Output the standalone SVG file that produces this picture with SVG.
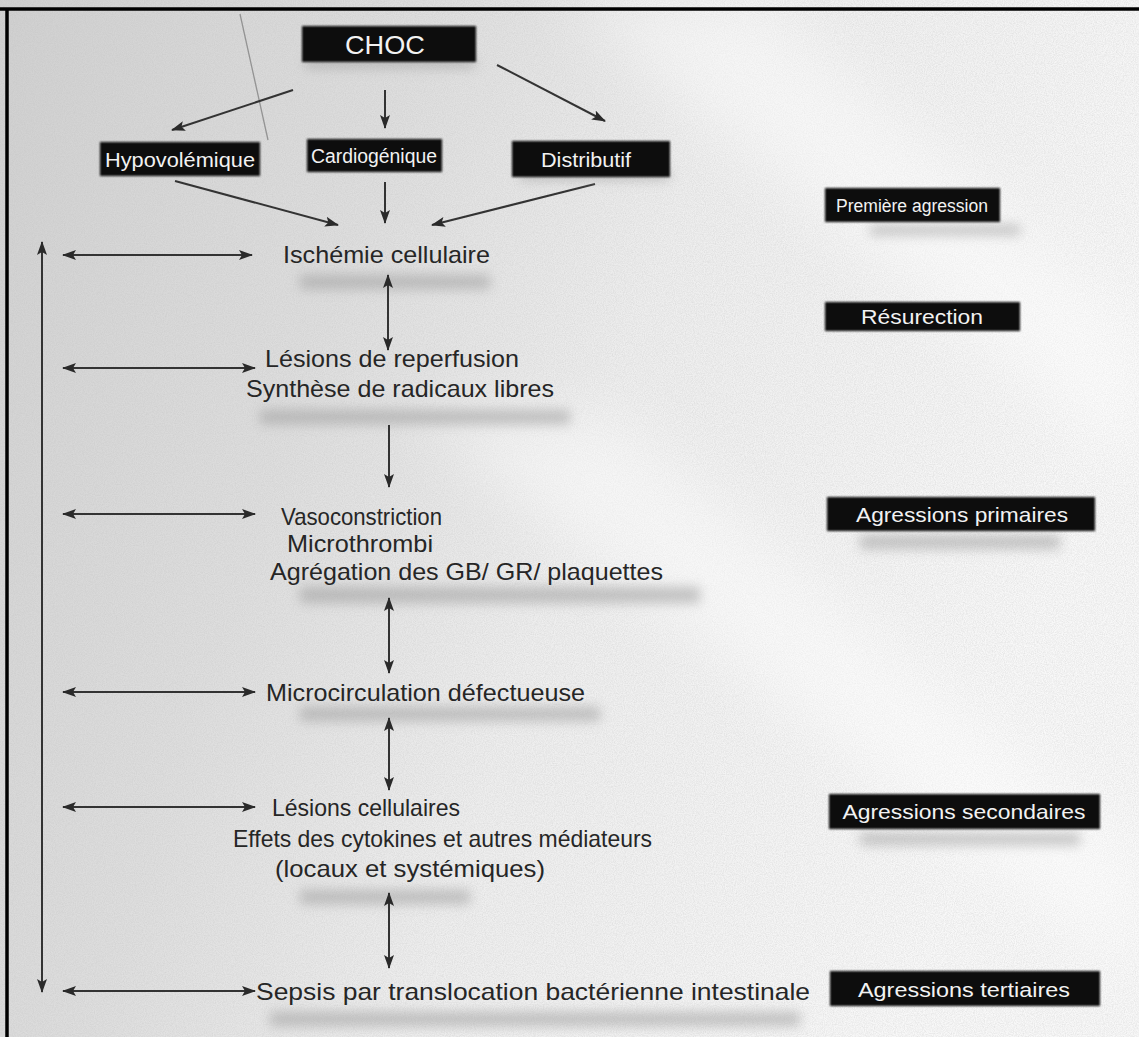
<svg xmlns="http://www.w3.org/2000/svg" width="1139" height="1037" viewBox="0 0 1139 1037">
  <defs>
    <linearGradient id="paper" x1="0" y1="0" x2="1" y2="0.3">
      <stop offset="0" stop-color="#d0d0d0"/>
      <stop offset="0.35" stop-color="#dedede"/>
      <stop offset="0.6" stop-color="#eeeeee"/>
      <stop offset="1" stop-color="#f8f8f8"/>
    </linearGradient>
    <filter id="grain" x="0" y="0" width="100%" height="100%">
      <feTurbulence type="fractalNoise" baseFrequency="0.9" numOctaves="2" seed="4" result="n"/>
      <feColorMatrix type="matrix" values="0 0 0 0 0.5  0 0 0 0 0.5  0 0 0 0 0.5  0 0 0 -1.6 1.1" in="n"/>
    </filter>
    <filter id="soft" x="-20%" y="-200%" width="140%" height="500%">
      <feGaussianBlur stdDeviation="6"/>
    </filter>
    <filter id="wide" x="-30%" y="-30%" width="160%" height="160%">
      <feGaussianBlur stdDeviation="30"/>
    </filter>
    <filter id="edge" x="-5%" y="-20%" width="110%" height="140%">
      <feGaussianBlur stdDeviation="1.2"/>
    </filter>
    <marker id="ah" viewBox="0 0 14 10" refX="13" refY="5" markerWidth="14" markerHeight="10" markerUnits="userSpaceOnUse" orient="auto-start-reverse">
      <path d="M0,0 L14,5 L0,10 L3,5 z" fill="#2a2a2a"/>
    </marker>
    <style>
      .lbl { font-family: "Liberation Sans", Arial, sans-serif; font-size: 24px; fill: #262626; }
      .tag { font-family: "Liberation Sans", Arial, sans-serif; font-size: 20px; fill: #f2f2f2; text-anchor: middle; }
      .box { fill: #080808; filter: url(#edge); }
      .shade { fill: #9a9a9a; opacity: 0.55; filter: url(#soft); }
      .link { stroke: #333; stroke-width: 2; fill: none; marker-end: url(#ah); }
      .both { marker-start: url(#ah); }
    </style>
  </defs>

  <!-- paper -->
  <rect width="1139" height="1037" fill="url(#paper)"/>
  <rect width="1139" height="1037" filter="url(#grain)" opacity="0.35"/>
  <!-- light diagonal streaks across the sheet -->
  <g opacity="0.45" fill="#ffffff" filter="url(#wide)">
    <path d="M560,0 L760,0 L1139,330 L1139,470 Z"/>
    <path d="M420,420 L620,420 L1139,860 L1139,980 Z"/>
  </g>

  <!-- frame -->
  <line x1="0" y1="9" x2="1139" y2="9" stroke="#000" stroke-width="3.5"/>
  <line x1="7" y1="9" x2="7" y2="1037" stroke="#000" stroke-width="3.5"/>
  <!-- stray pencil stroke -->
  <line x1="240" y1="14" x2="268" y2="140" stroke="#777" stroke-width="1.3" opacity="0.7"/>

  <!-- smudged shadows under the text blocks -->
  <g id="shadows">
    <rect class="shade" x="300" y="275" width="190" height="14"/>
    <rect class="shade" x="260" y="410" width="310" height="14"/>
    <rect class="shade" x="300" y="587" width="400" height="16"/>
    <rect class="shade" x="300" y="707" width="300" height="14"/>
    <rect class="shade" x="300" y="890" width="170" height="14"/>
    <rect class="shade" x="270" y="1012" width="530" height="14"/>
    <rect class="shade" x="870" y="225" width="150" height="10"/>
    <rect class="shade" x="860" y="535" width="200" height="14"/>
    <rect class="shade" x="860" y="833" width="220" height="12"/>
  </g>

  <!-- connectors -->
  <g id="connectors">
    <line class="link" x1="293" y1="90" x2="172" y2="130"/>
    <line class="link" x1="385" y1="90" x2="385" y2="128"/>
    <line class="link" x1="497" y1="65" x2="605" y2="121"/>
    <line class="link" x1="175" y1="181" x2="338" y2="225"/>
    <line class="link" x1="385" y1="182" x2="385" y2="223"/>
    <line class="link" x1="595" y1="184" x2="432" y2="225"/>

    <line class="link both" x1="388" y1="275" x2="388" y2="350"/>
    <line class="link" x1="389" y1="425" x2="389" y2="487"/>
    <line class="link both" x1="389" y1="598" x2="389" y2="673"/>
    <line class="link both" x1="389" y1="718" x2="389" y2="790"/>
    <line class="link both" x1="389" y1="893" x2="389" y2="968"/>

    <line class="link both" x1="63" y1="255" x2="252" y2="255"/>
    <line class="link both" x1="63" y1="368" x2="255" y2="368"/>
    <line class="link both" x1="63" y1="514" x2="255" y2="514"/>
    <line class="link both" x1="63" y1="692" x2="255" y2="692"/>
    <line class="link both" x1="63" y1="807" x2="255" y2="807"/>
    <line class="link both" x1="63" y1="991" x2="255" y2="991"/>

    <line class="link both" x1="42" y1="242" x2="42" y2="992"/>
  </g>

  <!-- shock types -->
  <g id="choc">
    <rect class="shade" x="305" y="58" width="170" height="10"/>
    <rect class="box" x="302" y="26" width="174" height="36"/>
    <text class="tag" x="385" y="54" style="font-size:26px" textLength="80" lengthAdjust="spacingAndGlyphs">CHOC</text>
  </g>
  <g id="hypovolemique">
    <rect class="box" x="100" y="142" width="160" height="34"/>
    <text class="tag" x="180" y="167" style="font-size:21px" textLength="150" lengthAdjust="spacingAndGlyphs">Hypovolémique</text>
  </g>
  <g id="cardiogenique">
    <rect class="box" x="307" y="139" width="135" height="33"/>
    <text class="tag" x="374" y="163" textLength="126" lengthAdjust="spacingAndGlyphs">Cardiogénique</text>
  </g>
  <g id="distributif">
    <rect class="shade" x="520" y="170" width="150" height="10"/>
    <rect class="box" x="512" y="141" width="158" height="36"/>
    <text class="tag" x="586" y="167" textLength="90" lengthAdjust="spacingAndGlyphs">Distributif</text>
  </g>

  <!-- cascade -->
  <g id="ischemie">
    <text class="lbl" x="283" y="263" textLength="207" lengthAdjust="spacingAndGlyphs">Ischémie cellulaire</text>
  </g>
  <g id="reperfusion">
    <text class="lbl" x="265" y="367" textLength="254" lengthAdjust="spacingAndGlyphs">Lésions de reperfusion</text>
    <text class="lbl" x="246" y="397" textLength="308" lengthAdjust="spacingAndGlyphs">Synthèse de radicaux libres</text>
  </g>
  <g id="vasoconstriction">
    <text class="lbl" x="281" y="525" textLength="161" lengthAdjust="spacingAndGlyphs">Vasoconstriction</text>
    <text class="lbl" x="287" y="552" textLength="146" lengthAdjust="spacingAndGlyphs">Microthrombi</text>
    <text class="lbl" x="270" y="580" textLength="393" lengthAdjust="spacingAndGlyphs">Agrégation des GB/ GR/ plaquettes</text>
  </g>
  <g id="microcirculation">
    <text class="lbl" x="266" y="701" textLength="319" lengthAdjust="spacingAndGlyphs">Microcirculation défectueuse</text>
  </g>
  <g id="lesions-cellulaires">
    <text class="lbl" x="272" y="816" textLength="188" lengthAdjust="spacingAndGlyphs">Lésions cellulaires</text>
    <text class="lbl" x="233" y="847" textLength="419" lengthAdjust="spacingAndGlyphs">Effets des cytokines et autres médiateurs</text>
    <text class="lbl" x="275" y="877" textLength="270" lengthAdjust="spacingAndGlyphs">(locaux et systémiques)</text>
  </g>
  <g id="sepsis">
    <text class="lbl" x="256" y="1000" textLength="554" lengthAdjust="spacingAndGlyphs">Sepsis par translocation bactérienne intestinale</text>
  </g>

  <!-- stage labels -->
  <g id="premiere-agression">
    <rect class="box" x="825" y="188" width="175" height="34"/>
    <text class="tag" x="912" y="212" style="font-size:18px" textLength="152" lengthAdjust="spacingAndGlyphs">Première agression</text>
  </g>
  <g id="resurection">
    <rect class="box" x="825" y="302" width="195" height="29"/>
    <text class="tag" x="922" y="324" textLength="122" lengthAdjust="spacingAndGlyphs">Résurection</text>
  </g>
  <g id="agressions-primaires">
    <rect class="box" x="827" y="497" width="268" height="34"/>
    <text class="tag" x="962" y="522" style="font-size:21px" textLength="212" lengthAdjust="spacingAndGlyphs">Agressions primaires</text>
  </g>
  <g id="agressions-secondaires">
    <rect class="box" x="829" y="794" width="271" height="35"/>
    <text class="tag" x="964" y="819" style="font-size:21px" textLength="243" lengthAdjust="spacingAndGlyphs">Agressions secondaires</text>
  </g>
  <g id="agressions-tertiaires">
    <rect class="box" x="830" y="971" width="270" height="35"/>
    <text class="tag" x="964" y="997" style="font-size:21px" textLength="212" lengthAdjust="spacingAndGlyphs">Agressions tertiaires</text>
  </g>
</svg>
